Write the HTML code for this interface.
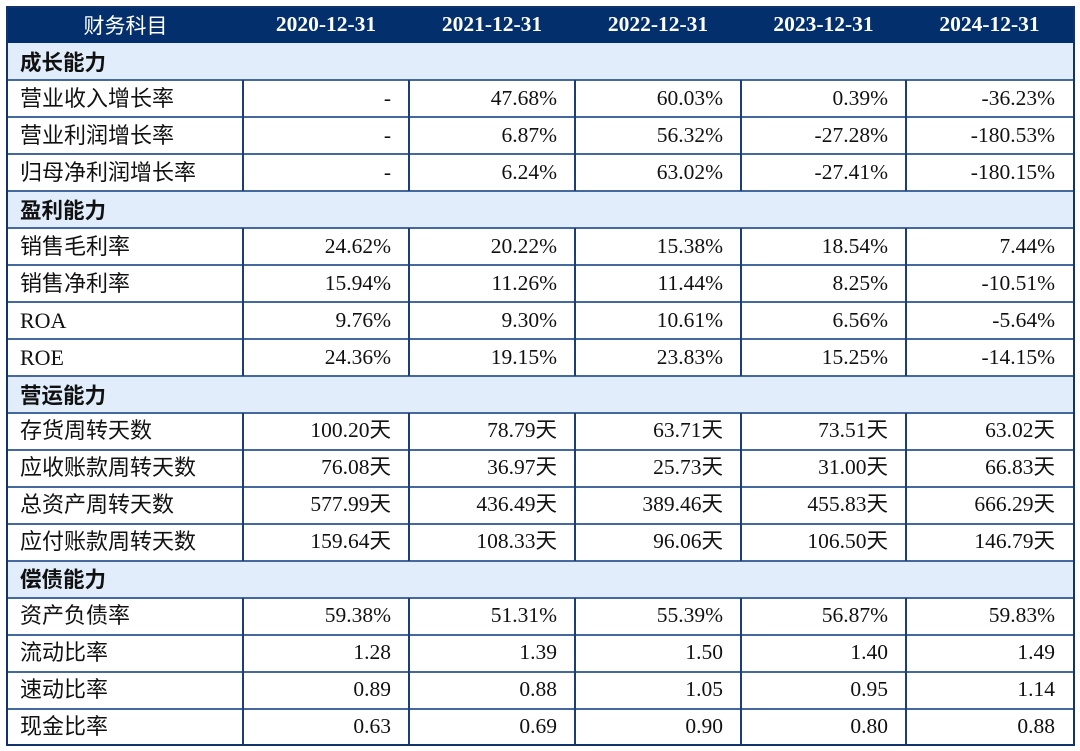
<!DOCTYPE html>
<html>
<head>
<meta charset="utf-8">
<style>
  html, body { margin:0; padding:0; background:#ffffff; }
  body { width:1080px; height:751px; position:relative; overflow:hidden;
         font-family:"Liberation Serif","Noto Sans CJK SC",serif; color:#111; }
  .hdr { position:absolute; left:7px; top:7px; width:1067px; height:36px; background:#03306c; }
  .row { position:absolute; left:8px; width:1065px; display:grid;
         grid-template-columns:235px 166px 166px 166px 165px 167px; }
  .row > div { display:flex; align-items:center; justify-content:flex-end;
               padding-right:18px; white-space:nowrap; font-size:21.5px; line-height:1; }
  .row > div.l { justify-content:flex-start; padding:0 0 0 12px; font-size:22px; }
  .h > div { justify-content:center; padding:0; color:#fff; font-weight:bold; font-size:21.5px; }
  .h > div.t { font-family:"Noto Sans CJK SC",sans-serif; font-weight:normal; font-size:21px; }
  .sec { position:absolute; left:8px; width:1065px; background:#e1edfb;
         display:flex; align-items:center; padding-left:12px; box-sizing:border-box;
         font-family:"Noto Sans CJK SC",sans-serif; font-weight:bold; font-size:21.5px; line-height:1; }
  .hl { position:absolute; left:8px; width:1065px; height:2px; background:#45699f; }
  .vl { position:absolute; width:2px; background:#1d3d76; }
  .frame { position:absolute; left:6px; top:6px; width:1069px; height:740px;
           box-sizing:border-box; border:2px solid #12336b; }
</style>
</head>
<body>
<div class="hdr"></div>
<div class="row h" style="top:7px;height:36px;">
  <div class="t">财务科目</div><div>2020-12-31</div><div>2021-12-31</div><div>2022-12-31</div><div>2023-12-31</div><div>2024-12-31</div>
</div>

<div class="sec" style="top:43px;height:37px;">成长能力</div>
<div class="row" style="top:80px;height:37px;"><div class="l">营业收入增长率</div><div>-</div><div>47.68%</div><div>60.03%</div><div>0.39%</div><div>-36.23%</div></div>
<div class="row" style="top:117px;height:37px;"><div class="l">营业利润增长率</div><div>-</div><div>6.87%</div><div>56.32%</div><div>-27.28%</div><div>-180.53%</div></div>
<div class="row" style="top:154px;height:37px;"><div class="l">归母净利润增长率</div><div>-</div><div>6.24%</div><div>63.02%</div><div>-27.41%</div><div>-180.15%</div></div>

<div class="sec" style="top:191px;height:37px;">盈利能力</div>
<div class="row" style="top:228px;height:37px;"><div class="l">销售毛利率</div><div>24.62%</div><div>20.22%</div><div>15.38%</div><div>18.54%</div><div>7.44%</div></div>
<div class="row" style="top:265px;height:37px;"><div class="l">销售净利率</div><div>15.94%</div><div>11.26%</div><div>11.44%</div><div>8.25%</div><div>-10.51%</div></div>
<div class="row" style="top:302px;height:37px;"><div class="l">ROA</div><div>9.76%</div><div>9.30%</div><div>10.61%</div><div>6.56%</div><div>-5.64%</div></div>
<div class="row" style="top:339px;height:37px;"><div class="l">ROE</div><div>24.36%</div><div>19.15%</div><div>23.83%</div><div>15.25%</div><div>-14.15%</div></div>

<div class="sec" style="top:376px;height:36.5px;">营运能力</div>
<div class="row" style="top:412.5px;height:37px;"><div class="l">存货周转天数</div><div>100.20天</div><div>78.79天</div><div>63.71天</div><div>73.51天</div><div>63.02天</div></div>
<div class="row" style="top:449.5px;height:37px;"><div class="l">应收账款周转天数</div><div>76.08天</div><div>36.97天</div><div>25.73天</div><div>31.00天</div><div>66.83天</div></div>
<div class="row" style="top:486.5px;height:37px;"><div class="l">总资产周转天数</div><div>577.99天</div><div>436.49天</div><div>389.46天</div><div>455.83天</div><div>666.29天</div></div>
<div class="row" style="top:523.5px;height:37px;"><div class="l">应付账款周转天数</div><div>159.64天</div><div>108.33天</div><div>96.06天</div><div>106.50天</div><div>146.79天</div></div>

<div class="sec" style="top:560.5px;height:37px;">偿债能力</div>
<div class="row" style="top:597.5px;height:37px;"><div class="l">资产负债率</div><div>59.38%</div><div>51.31%</div><div>55.39%</div><div>56.87%</div><div>59.83%</div></div>
<div class="row" style="top:634.5px;height:37px;"><div class="l">流动比率</div><div>1.28</div><div>1.39</div><div>1.50</div><div>1.40</div><div>1.49</div></div>
<div class="row" style="top:671.5px;height:37px;"><div class="l">速动比率</div><div>0.89</div><div>0.88</div><div>1.05</div><div>0.95</div><div>1.14</div></div>
<div class="row" style="top:708.5px;height:36.5px;"><div class="l">现金比率</div><div>0.63</div><div>0.69</div><div>0.90</div><div>0.80</div><div>0.88</div></div>

<!-- horizontal lines -->
<div class="hl" style="top:79px"></div>
<div class="hl" style="top:116px"></div>
<div class="hl" style="top:153px"></div>
<div class="hl" style="top:190px"></div>
<div class="hl" style="top:227px"></div>
<div class="hl" style="top:264px"></div>
<div class="hl" style="top:301px"></div>
<div class="hl" style="top:338px"></div>
<div class="hl" style="top:375px"></div>
<div class="hl" style="top:411.5px"></div>
<div class="hl" style="top:448.5px"></div>
<div class="hl" style="top:485.5px"></div>
<div class="hl" style="top:522.5px"></div>
<div class="hl" style="top:559.5px"></div>
<div class="hl" style="top:596.5px"></div>
<div class="hl" style="top:633.5px"></div>
<div class="hl" style="top:670.5px"></div>
<div class="hl" style="top:707.5px"></div>

<!-- vertical lines -->
<div class="vl" style="left:242px;top:80px;height:111px"></div>
<div class="vl" style="left:408px;top:80px;height:111px"></div>
<div class="vl" style="left:574px;top:80px;height:111px"></div>
<div class="vl" style="left:740px;top:80px;height:111px"></div>
<div class="vl" style="left:905px;top:80px;height:111px"></div>

<div class="vl" style="left:242px;top:228px;height:148px"></div>
<div class="vl" style="left:408px;top:228px;height:148px"></div>
<div class="vl" style="left:574px;top:228px;height:148px"></div>
<div class="vl" style="left:740px;top:228px;height:148px"></div>
<div class="vl" style="left:905px;top:228px;height:148px"></div>

<div class="vl" style="left:242px;top:412.5px;height:148px"></div>
<div class="vl" style="left:408px;top:412.5px;height:148px"></div>
<div class="vl" style="left:574px;top:412.5px;height:148px"></div>
<div class="vl" style="left:740px;top:412.5px;height:148px"></div>
<div class="vl" style="left:905px;top:412.5px;height:148px"></div>

<div class="vl" style="left:242px;top:597.5px;height:148px"></div>
<div class="vl" style="left:408px;top:597.5px;height:148px"></div>
<div class="vl" style="left:574px;top:597.5px;height:148px"></div>
<div class="vl" style="left:740px;top:597.5px;height:148px"></div>
<div class="vl" style="left:905px;top:597.5px;height:148px"></div>

<div class="frame"></div>
</body>
</html>
